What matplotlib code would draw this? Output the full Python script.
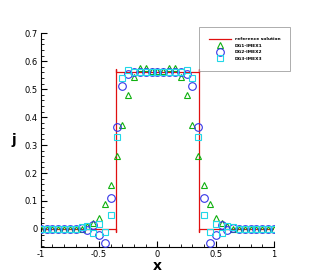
import numpy as np
import matplotlib.pyplot as plt
from matplotlib.ticker import MultipleLocator

# grid points (every 0.05 on [-1, 1])
x = np.round(np.linspace(-1, 1, 41), 2)

# half profiles for |x| = 0, 0.05, ..., 1.0
dg1_half = [0.565, 0.565, 0.575, 0.575, 0.545, 0.478, 0.37, 0.26, 0.158, 0.088,
            0.04, 0.02, 0.01, 0.0, 0, 0, 0, 0, 0, 0, 0]
dg2_half = [0.56, 0.56, 0.56, 0.56, 0.56, 0.555, 0.51, 0.365, 0.11, -0.051,
            -0.022, 0.015, -0.005, 0.005, 0, 0, 0, 0, 0, 0, 0]
dg3_half = [0.56, 0.56, 0.56, 0.56, 0.56, 0.568, 0.54, 0.328, 0.05, -0.012,
            0.017, -0.013, 0.012, 0.008, 0, 0, 0, 0, 0, 0, 0]

def mirror(half):
    half = list(half)
    return np.array(half[::-1] + half[1:])

dg1 = mirror(dg1_half)
dg2 = mirror(dg2_half)
dg3 = mirror(dg3_half)

# reference solution (step profile)
ref_x = [-1, -0.355, -0.355, -0.355, -0.355, 0.355, 0.355, 0.355, 0.355, 1]
ref_y = [0, 0, -0.01, 0.572, 0.562, 0.562, 0.572, -0.01, 0, 0]

fig = plt.figure(figsize=(3.11, 2.77), dpi=100)
ax = fig.add_axes([0.131, 0.109, 0.75, 0.771])

ax.plot(ref_x, ref_y, color='#e01010', lw=0.9, label='reference solution', zorder=2)
ax.plot(x, dg1, ls='none', marker='^', ms=5, mfc='none', mec='#10b010', mew=0.8,
        label='DG1-IMEX1', zorder=3)
ax.plot(x, dg2, ls='none', marker='o', ms=5.5, mfc='none', mec='#3535e8', mew=0.8,
        label='DG2-IMEX2', zorder=3)
ax.plot(x, dg3, ls='none', marker='s', ms=4.8, mfc='none', mec='#20d8e8', mew=0.8,
        label='DG3-IMEX3', zorder=3)

ax.set_xlim(-1, 1)
ax.set_ylim(-0.064, 0.7)
ax.set_xticks([-1, -0.5, 0, 0.5, 1])
ax.set_xticklabels(['-1', '-0.5', '0', '0.5', '1'])
ax.set_yticks(np.arange(0, 0.71, 0.1))
ax.set_yticklabels(['0', '0.1', '0.2', '0.3', '0.4', '0.5', '0.6', '0.7'])
ax.xaxis.set_minor_locator(MultipleLocator(0.1))
ax.yaxis.set_minor_locator(MultipleLocator(0.02))
ax.tick_params(which='major', direction='in', length=4, width=0.8, labelsize=6, pad=2)
ax.tick_params(which='minor', direction='in', length=2, width=0.6)
ax.spines['top'].set_visible(False)
ax.spines['right'].set_visible(False)

ax.set_xlabel('x', fontsize=10, fontweight='bold', labelpad=0)
ax.set_ylabel('j', fontsize=10, fontweight='bold', rotation=0, labelpad=8, va='center')

# 图例放在坐标轴右上角外侧
leg = fig.legend(loc='upper left', bbox_to_anchor=(0.64, 0.9025),
                 prop={'weight': 'bold', 'size': 3.2}, frameon=True, fancybox=False,
                 edgecolor='#888888', borderpad=2.3, handlelength=4.8, labelspacing=0.55,
                 handletextpad=0.9, borderaxespad=0)
leg.get_frame().set_linewidth(0.6)

plt.savefig('out.png', dpi=100)
